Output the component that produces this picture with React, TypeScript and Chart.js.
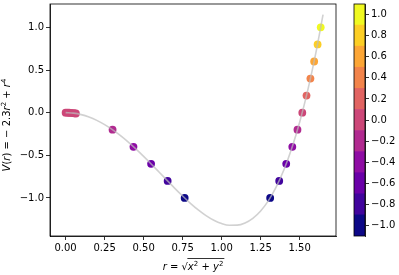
import React, { useEffect, useRef } from "react";
import { Chart, registerables } from "chart.js";

Chart.register(...registerables);

// ---- data ----
const curveR = [0, 0.05, 0.1, 0.15, 0.2, 0.25, 0.3, 0.35, 0.4, 0.45, 0.5, 0.55, 0.6, 0.65, 0.7, 0.75, 0.8, 0.85, 0.9, 0.95, 1.0, 1.05, 1.1, 1.15, 1.2, 1.25, 1.3, 1.35, 1.4, 1.45, 1.5, 1.55, 1.6, 1.65];
const curveV = [0, -0.0057, -0.0229, -0.0512, -0.0904, -0.1398, -0.1989, -0.2667, -0.3424, -0.4247, -0.5125, -0.6042, -0.6984, -0.7932, -0.8869, -0.9773, -1.0624, -1.1397, -1.2069, -1.2612, -1.3, -1.3202, -1.3189, -1.2927, -1.2384, -1.1523, -1.0309, -0.8702, -0.6664, -0.4152, -0.1125, 0.2463, 0.6656, 1.1503];

const pointR = [0, 0.011, 0.022, 0.033, 0.044, 0.055, 0.066, 0.301, 0.435, 0.548, 0.654, 0.763, 1.311, 1.369, 1.414, 1.453, 1.486, 1.517, 1.544, 1.569, 1.593, 1.615, 1.635];
const pointV = [0, -0.0003, -0.0011, -0.0025, -0.0044, -0.0069, -0.01, -0.2, -0.4, -0.6, -0.8, -1.0, -1.0, -0.8, -0.6, -0.4, -0.2, 0.0, 0.2, 0.4, 0.6, 0.8, 1.0];

const levels = [-1.0, -0.8, -0.6, -0.4, -0.2, 0.0, 0.2, 0.4, 0.6, 0.8, 1.0];
const levelColors = ["#0d0887", "#41049d", "#6a00a8", "#8f0da4", "#b12a90", "#cc4778", "#e16462", "#f2844b", "#fca636", "#fcce25", "#f0f921"];

const xTicks = [0, 0.25, 0.5, 0.75, 1.0, 1.25, 1.5];
const yTicks = [-1.0, -0.5, 0.0, 0.5, 1.0];
const cbTicks = [-1.0, -0.8, -0.6, -0.4, -0.2, 0.0, 0.2, 0.4, 0.6, 0.8, 1.0];

const FONT = "'DejaVu Sans', sans-serif";
const fmt = (v: number, d: number) => {
  const s = Math.abs(v).toFixed(d);
  return v < -1e-9 ? "\u2212" + s : s;
};

function colorFor(v: number) {
  const step = levels[1] - levels[0];
  let i = Math.round((v - levels[0]) / step);
  i = Math.max(0, Math.min(levelColors.length - 1, i));
  return levelColors[i];
}

type Seg = { t: string; it?: boolean; sup?: boolean };

function drawSegs(ctx: CanvasRenderingContext2D, segs: Seg[], size: number) {
  const fontOf = (s: Seg) =>
    `${s.it ? "italic " : ""}${s.sup ? size * 0.7 : size}px ${FONT}`;
  let total = 0;
  const widths = segs.map((s) => {
    ctx.font = fontOf(s);
    const w = ctx.measureText(s.t).width;
    total += w;
    return w;
  });
  let x = -total / 2;
  const xs: number[] = [];
  segs.forEach((s, i) => {
    ctx.font = fontOf(s);
    ctx.fillText(s.t, x, s.sup ? -size * 0.38 : 0);
    xs.push(x);
    x += widths[i];
  });
  return { xs, widths, total };
}

const framePlugin = {
  id: "frame",
  afterDraw(chart: any) {
    const { ctx, chartArea: a } = chart;
    ctx.save();
    ctx.strokeStyle = "#000";
    ctx.lineWidth = 0.8;
    ctx.strokeRect(a.left, a.top, a.right - a.left, a.bottom - a.top);
    ctx.restore();
  },
};

const labelPlugin = {
  id: "mathLabels",
  afterDraw(chart: any) {
    const { ctx, chartArea: a } = chart;
    ctx.save();
    ctx.fillStyle = "#000";
    ctx.textBaseline = "alphabetic";
    ctx.textAlign = "left";
    // y label
    ctx.save();
    ctx.translate(10, (a.top + a.bottom) / 2 + 5);
    ctx.rotate(-Math.PI / 2);
    drawSegs(
      ctx,
      [
        { t: "V", it: true },
        { t: "(" },
        { t: "r", it: true },
        { t: ") = \u2212 2.3" },
        { t: "r", it: true },
        { t: "2", sup: true },
        { t: " + " },
        { t: "r", it: true },
        { t: "4", sup: true },
      ],
      10
    );
    ctx.restore();
    // x label
    ctx.save();
    ctx.translate((a.left + a.right) / 2, a.bottom + 34);
    const segs: Seg[] = [
      { t: "r", it: true },
      { t: " = " },
      { t: "\u221a" },
      { t: "x", it: true },
      { t: "2", sup: true },
      { t: " + " },
      { t: "y", it: true },
      { t: "2", sup: true },
    ];
    const r = drawSegs(ctx, segs, 10);
    const x0 = r.xs[2] + r.widths[2] - 0.5;
    const x1 = r.xs[7] + r.widths[7] + 1;
    ctx.strokeStyle = "#000";
    ctx.lineWidth = 0.8;
    ctx.beginPath();
    ctx.moveTo(x0, -11.5);
    ctx.lineTo(x1, -11.5);
    ctx.stroke();
    ctx.restore();
    ctx.restore();
  },
};

const noPad = (s: any) => {
  s.paddingTop = 0;
  s.paddingBottom = 0;
  s.paddingLeft = 0;
  s.paddingRight = 0;
};

export default function App() {
  const mainRef = useRef<HTMLCanvasElement>(null);
  const cbRef = useRef<HTMLCanvasElement>(null);

  useEffect(() => {
    const tickFont = { family: FONT, size: 10 };
    const main = new Chart(mainRef.current!, {
      type: "scatter",
      data: {
        datasets: [
          {
            label: "curve",
            data: curveR.map((r, i) => ({ x: r, y: curveV[i] })),
            showLine: true,
            borderColor: "rgba(190,190,190,0.7)",
            borderWidth: 1.6,
            pointRadius: 0,
            cubicInterpolationMode: "monotone",
            order: 0,
          } as any,
          {
            label: "points",
            data: pointR.map((r, i) => ({ x: r, y: pointV[i] })),
            pointRadius: 3.9,
            pointBorderWidth: 0,
            pointBackgroundColor: pointV.map((v) => colorFor(v)),
            backgroundColor: pointV.map((v) => colorFor(v)),
            order: 1,
          } as any,
        ],
      },
      options: {
        animation: false,
        responsive: false,
        events: [],
        layout: { padding: { top: 4, right: 9, left: 0, bottom: 0 } },
        plugins: { legend: { display: false }, tooltip: { enabled: false } },
        scales: {
          x: {
            type: "linear",
            min: -0.1,
            max: 1.733,
            afterBuildTicks: (s: any) => {
              s.ticks = xTicks.map((v) => ({ value: v }));
            },
            afterFit: (s: any) => {
              s.height = 39;
              noPad(s);
            },
            grid: { drawOnChartArea: false, drawTicks: true, tickLength: 4, tickColor: "#000", tickWidth: 0.8 },
            border: { display: true, color: "#000", width: 0.8 },
            ticks: {
              font: tickFont,
              color: "#000",
              padding: 2,
              maxRotation: 0,
              callback: (v: any) => fmt(Number(v), 2),
            },
          },
          y: {
            type: "linear",
            min: -1.446,
            max: 1.274,
            afterBuildTicks: (s: any) => {
              s.ticks = yTicks.map((v) => ({ value: v }));
            },
            afterFit: (s: any) => {
              s.width = 50;
              noPad(s);
            },
            grid: { drawOnChartArea: false, drawTicks: true, tickLength: 4, tickColor: "#000", tickWidth: 0.8 },
            border: { display: true, color: "#000", width: 0.8 },
            ticks: {
              font: tickFont,
              color: "#000",
              padding: 2,
              callback: (v: any) => fmt(Number(v), 1),
            },
          },
        },
      },
      plugins: [framePlugin, labelPlugin],
    } as any);

    const cb = new Chart(cbRef.current!, {
      type: "bar",
      data: {
        labels: ["cb"],
        datasets: levels.map((lv, i) => ({
          label: String(lv),
          data: [[lv - 0.1, lv + 0.1]],
          backgroundColor: levelColors[i],
          borderWidth: 0,
          grouped: false,
          barPercentage: 1,
          categoryPercentage: 1,
        })) as any,
      },
      options: {
        animation: false,
        responsive: false,
        events: [],
        layout: { padding: { top: 4, right: 0, left: 14, bottom: 39 } },
        plugins: { legend: { display: false }, tooltip: { enabled: false } },
        scales: {
          x: { display: false },
          y: {
            position: "right",
            min: -1.1,
            max: 1.1,
            afterBuildTicks: (s: any) => {
              s.ticks = cbTicks.map((v) => ({ value: v }));
            },
            afterFit: (s: any) => {
              s.width = 34;
              noPad(s);
            },
            grid: { drawOnChartArea: false, drawTicks: true, tickLength: 4, tickColor: "#000", tickWidth: 0.8 },
            border: { display: true, color: "#000", width: 0.8 },
            ticks: {
              font: tickFont,
              color: "#000",
              padding: 2,
              callback: (v: any) => fmt(Number(v), 1),
            },
          },
        },
      },
      plugins: [framePlugin],
    } as any);

    return () => {
      main.destroy();
      cb.destroy();
    };
  }, []);

  return (
    <div style={{ position: "absolute", left: 0, top: 0, width: 399, height: 275, background: "#fff" }}>
      <canvas ref={mainRef} width={345} height={275} style={{ position: "absolute", left: 0, top: 0, width: 345, height: 275 }} />
      <canvas ref={cbRef} width={59} height={275} style={{ position: "absolute", left: 340, top: 0, width: 59, height: 275 }} />
    </div>
  );
}
